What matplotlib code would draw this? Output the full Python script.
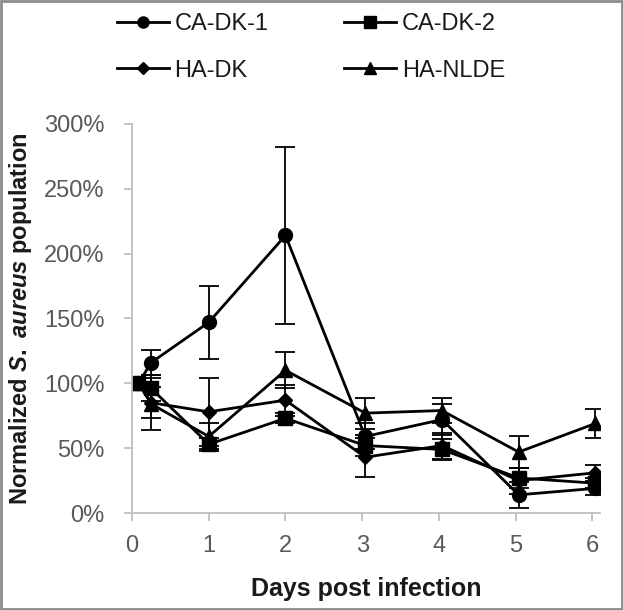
# libraries
import numpy as np
import matplotlib
matplotlib.use("Agg")
import matplotlib.pyplot as plt
from matplotlib.lines import Line2D
from matplotlib.ticker import FuncFormatter

plt.rcParams['font.family'] = ['Liberation Sans', 'DejaVu Sans']
plt.rcParams['mathtext.fontset'] = 'custom'
plt.rcParams['mathtext.it'] = 'Liberation Sans:italic:bold'
plt.rcParams['mathtext.rm'] = 'Liberation Sans:bold'

# sampling days
days = [0.083, 0.25, 1, 2, 3.04, 4.04, 5.04, 6.04]

# normalized population (%) and error bars
ca_dk_1 = [100, 116, 147, 214, 59, 72, 14, 19]
ca_dk_1_err = [0, 10, 28, 68, 10, 12, 10, 5]

ca_dk_2 = [100, 96, 53, 73, 52, 49, 27, 23]
ca_dk_2_err = [0, 10, 5, 4, 8, 8, 8, 4]

ha_dk = [100, 85, 78, 87, 43, 52, 25, 31]
ha_dk_err = [0, 12, 26, 12, 15, 10, 10, 6]

ha_nlde = [100, 84, 59, 110, 77, 79, 47, 69]
ha_nlde_err = [0, 20, 10, 14, 12, 10, 12, 11]

names = ["CA-DK-1", "CA-DK-2", "HA-DK", "HA-NLDE"]
markers = ["o", "s", "D", "^"]
sizes = [10, 10, 7.5, 10]

fig = plt.figure(figsize=(6.23, 6.10), dpi=100)
ax = fig.add_axes([0.212, 0.159, 0.751, 0.638])

series = [(ca_dk_1, ca_dk_1_err), (ca_dk_2, ca_dk_2_err),
          (ha_dk, ha_dk_err), (ha_nlde, ha_nlde_err)]

handles = []
for (vals, errs), name, m, ms in zip(series, names, markers, sizes):
    ax.errorbar(days, vals, yerr=errs, color='black', marker=m, markersize=ms,
                linewidth=2.0, elinewidth=1.3, capsize=7, capthick=1.3)
    handles.append(Line2D([], [], color='black', marker=m,
                          markersize=ms * 0.8, linewidth=2.0, label=name))

ax.set_xlim(0, 6.1)
ax.set_ylim(0, 300)
ax.set_xticks(range(0, 7))
ax.set_yticks(range(0, 301, 50))
ax.yaxis.set_major_formatter(FuncFormatter(lambda v, p: "%d%%" % v))

for s in ['top', 'right']:
    ax.spines[s].set_visible(False)
for s in ['left', 'bottom']:
    ax.spines[s].set_color('#bfbfbf')
    ax.spines[s].set_linewidth(1.3)
ax.tick_params(colors='#bfbfbf', labelcolor='#595959', labelsize=17,
               length=6, width=1.3, direction='out')
ax.tick_params(axis='y', pad=14)
ax.tick_params(axis='x', pad=10)

ax.set_xlabel("Days post infection", fontsize=18, fontweight='bold',
              color='#1a1a1a', labelpad=14)
ax.set_ylabel(r"Normalized $\mathit{S.\ aureus}$ population", fontsize=17,
              fontweight='bold', color='#1a1a1a', labelpad=7)

# legend across the top, row by row
order = [handles[0], handles[2], handles[1], handles[3]]
fig.legend(handles=order, loc='upper center', bbox_to_anchor=(0.499, 1.013),
           ncol=2, frameon=False, fontsize=17, handlelength=2.2,
           handletextpad=0.25, columnspacing=3.2, labelspacing=1.03,
           labelcolor='#1a1a1a')

# grey frame around the figure
fig.patches.append(plt.Rectangle((0.002, 0.002), 0.996, 0.996,
                                 transform=fig.transFigure, fill=False,
                                 edgecolor='#8c8c8c', linewidth=2))

fig.savefig("out.png", dpi=100)
